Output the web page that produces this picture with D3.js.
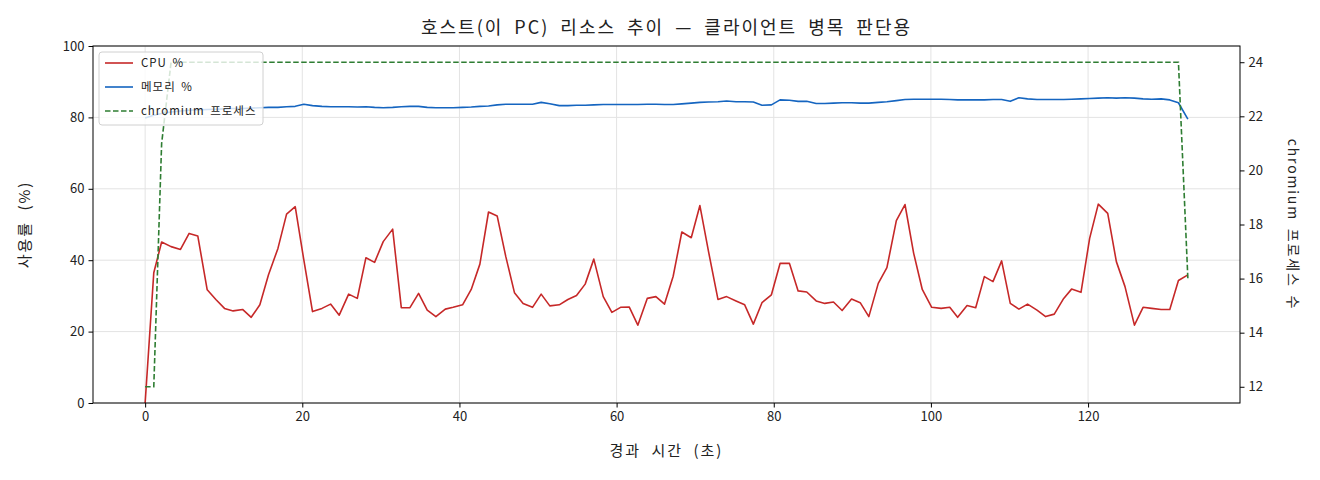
<!DOCTYPE html>
<html>
<head>
<meta charset="utf-8">
<script src="https://cdn.jsdelivr.net/npm/d3@7/dist/d3.min.js"></script>
<style>
  body { margin: 0; background: #fff; }
  svg text { font-family: "Noto Sans CJK KR", "DejaVu Sans", sans-serif; fill: #222; }
  .lbl { letter-spacing: 2px; word-spacing: 5px; }
  .lbl-r { letter-spacing: 1.8px; word-spacing: 3px; }
  .leg { letter-spacing: 1px; word-spacing: 2px; }
</style>
</head>
<body>
<div id="chart"></div>
<script>
// elapsed seconds of every sample
var elapsed = [
  0, 1.1, 2.1, 3.3, 4.5, 5.6, 6.7, 7.9, 9.0, 10.1, 11.2, 12.4, 13.5, 14.6, 15.7, 16.9, 18.0, 19.1, 20.2, 21.3,
  22.5, 23.6, 24.7, 25.9, 27.0, 28.1, 29.2, 30.3, 31.5, 32.6, 33.7, 34.8, 35.9, 37.0, 38.2, 39.2, 40.4, 41.5, 42.6, 43.7,
  44.8, 45.9, 47.0, 48.1, 49.3, 50.4, 51.5, 52.7, 53.8, 54.9, 56.0, 57.1, 58.3, 59.4, 60.5, 61.6, 62.7, 63.9, 65.0, 66.1,
  67.2, 68.3, 69.5, 70.6, 71.7, 72.9, 74.0, 75.2, 76.3, 77.4, 78.5, 79.7, 80.8, 82.0, 83.1, 84.2, 85.4, 86.5, 87.6, 88.7,
  89.9, 91.0, 92.1, 93.3, 94.4, 95.6, 96.7, 97.8, 98.9, 100.1, 101.3, 102.4, 103.4, 104.6, 105.7, 106.8, 107.9, 109.0, 110.1, 111.2,
  112.3, 113.5, 114.6, 115.7, 116.9, 117.9, 119.1, 120.2, 121.3, 122.5, 123.6, 124.7, 125.9, 127.0, 128.1, 129.3, 130.4, 131.5, 132.7
];
var cpuPct = [
  0, 36.5, 45.1, 43.8, 43.0, 47.5, 46.8, 31.7, 29.0, 26.5, 25.8, 26.2, 24.0, 27.5, 35.9, 43.3, 52.9, 55.0, 40.0, 25.6,
  26.5, 27.7, 24.6, 30.5, 29.3, 40.7, 39.4, 45.2, 48.7, 26.7, 26.7, 30.7, 26.0, 24.2, 26.3, 26.8, 27.5, 31.8, 38.9, 53.5,
  52.4, 41.0, 30.9, 27.9, 26.8, 30.5, 27.2, 27.5, 29.0, 30.1, 33.3, 40.3, 29.8, 25.4, 26.8, 26.9, 21.8, 29.3, 29.8, 27.7,
  35.5, 47.9, 46.3, 55.3, 42.4, 29.0, 29.8, 28.6, 27.5, 22.1, 28.1, 30.3, 39.1, 39.1, 31.4, 31.1, 28.6, 27.9, 28.3, 25.9,
  29.1, 28.1, 24.2, 33.5, 37.9, 51.1, 55.6, 42.0, 31.8, 26.8, 26.5, 26.8, 24.0, 27.3, 26.7, 35.4, 34.0, 39.8, 27.9, 26.3,
  27.7, 26.0, 24.2, 24.9, 29.3, 31.9, 31.0, 46.1, 55.7, 53.1, 39.6, 32.6, 21.8, 26.8, 26.5, 26.2, 26.2, 34.3, 35.9
];
var memPct = [
  79.8, 80.6, 81.1, 81.5, 81.8, 82.0, 82.1, 82.2, 82.3, 82.4, 82.5, 82.5, 82.6, 82.7, 82.8, 82.8, 83.0, 83.1, 83.7, 83.3,
  83.1, 83.0, 83.0, 83.0, 82.9, 83.0, 82.8, 82.7, 82.8, 83.0, 83.1, 83.1, 82.8, 82.7, 82.7, 82.7, 82.8, 82.9, 83.1, 83.2,
  83.5, 83.7, 83.7, 83.7, 83.7, 84.2, 83.8, 83.3, 83.3, 83.4, 83.4, 83.5, 83.6, 83.6, 83.6, 83.6, 83.6, 83.7, 83.7, 83.6,
  83.6, 83.8, 84.0, 84.2, 84.3, 84.4, 84.6, 84.4, 84.4, 84.3, 83.4, 83.5, 84.9, 84.8, 84.5, 84.5, 83.9, 83.9, 84.0, 84.1,
  84.1, 84.0, 84.0, 84.2, 84.4, 84.7, 85.0, 85.1, 85.1, 85.1, 85.1, 85.0, 84.9, 84.9, 84.9, 84.9, 85.0, 85.0, 84.5, 85.5,
  85.2, 85.0, 85.0, 85.0, 85.0, 85.1, 85.2, 85.3, 85.4, 85.5, 85.4, 85.5, 85.4, 85.2, 85.1, 85.2, 84.9, 84.1, 79.5
];
var chromiumProcs = [
  12, 12, 21, 24, 24, 24, 24, 24, 24, 24, 24, 24, 24, 24, 24, 24, 24, 24, 24, 24,
  24, 24, 24, 24, 24, 24, 24, 24, 24, 24, 24, 24, 24, 24, 24, 24, 24, 24, 24, 24,
  24, 24, 24, 24, 24, 24, 24, 24, 24, 24, 24, 24, 24, 24, 24, 24, 24, 24, 24, 24,
  24, 24, 24, 24, 24, 24, 24, 24, 24, 24, 24, 24, 24, 24, 24, 24, 24, 24, 24, 24,
  24, 24, 24, 24, 24, 24, 24, 24, 24, 24, 24, 24, 24, 24, 24, 24, 24, 24, 24, 24,
  24, 24, 24, 24, 24, 24, 24, 24, 24, 24, 24, 24, 24, 24, 24, 24, 24, 24, 16
];
var xTicks = [0, 20, 40, 60, 80, 100, 120];
var leftTicks = [0, 20, 40, 60, 80, 100];
var rightTicks = [12, 14, 16, 18, 20, 22, 24];
var seriesNames = ["CPU %", "메모리 %", "chromium 프로세스"];

var W = 1320, H = 480;
var margin = {top: 46, right: 80, bottom: 77, left: 93};
var iw = W - margin.left - margin.right, ih = H - margin.top - margin.bottom;

// matplotlib style 5% padding
function padded(ext) {
  var p = (ext[1] - ext[0]) * 0.05;
  return [ext[0] - p, ext[1] + p];
}

var x = d3.scaleLinear().domain(padded(d3.extent(elapsed))).range([0, iw]);
var yL = d3.scaleLinear().domain([0, 100]).range([ih, 0]);
var yR = d3.scaleLinear().domain(padded(d3.extent(chromiumProcs))).range([ih, 0]);

var svg = d3.select("#chart").append("svg").attr("width", W).attr("height", H);
var g = svg.append("g").attr("transform", "translate(" + margin.left + "," + margin.top + ")");

// grid
g.append("g").selectAll("line").data(xTicks).enter().append("line")
  .attr("x1", function(d) { return x(d); }).attr("x2", function(d) { return x(d); })
  .attr("y1", 0).attr("y2", ih).attr("stroke", "#e3e3e3").attr("stroke-width", 1);
g.append("g").selectAll("line").data(leftTicks).enter().append("line")
  .attr("x1", 0).attr("x2", iw)
  .attr("y1", function(d) { return yL(d); }).attr("y2", function(d) { return yL(d); })
  .attr("stroke", "#e3e3e3").attr("stroke-width", 1);

var idx = d3.range(elapsed.length);
var cpuLine = d3.line().x(function(i) { return x(elapsed[i]); }).y(function(i) { return yL(cpuPct[i]); });
var memLine = d3.line().x(function(i) { return x(elapsed[i]); }).y(function(i) { return yL(memPct[i]); });
var chrLine = d3.line().x(function(i) { return x(elapsed[i]); }).y(function(i) { return yR(chromiumProcs[i]); });

g.append("path").datum(idx).attr("d", cpuLine).attr("fill", "none")
  .attr("stroke", "#c62828").attr("stroke-width", 1.6).attr("stroke-linejoin", "round");
g.append("path").datum(idx).attr("d", memLine).attr("fill", "none")
  .attr("stroke", "#1565c0").attr("stroke-width", 1.6).attr("stroke-linejoin", "round");
g.append("path").datum(idx).attr("d", chrLine).attr("fill", "none")
  .attr("stroke", "#2e7d32").attr("stroke-width", 1.6).attr("stroke-dasharray", "5.5,2.5");

// axes
var axB = g.append("g").attr("transform", "translate(0," + ih + ")")
  .call(d3.axisBottom(x).tickValues(xTicks).tickSize(4.5).tickPadding(4));
var axL = g.append("g").call(d3.axisLeft(yL).tickValues(leftTicks).tickSize(4.5).tickPadding(4));
var axR = g.append("g").attr("transform", "translate(" + iw + ",0)")
  .call(d3.axisRight(yR).tickValues(rightTicks).tickSize(4.5).tickPadding(4));
[axB, axL, axR].forEach(function(a) {
  a.select(".domain").remove();
  a.selectAll("line").attr("stroke", "#000").attr("stroke-width", 1);
  a.selectAll("text").style("font-size", "13px").attr("fill", "#222");
});

// frame
g.append("rect").attr("width", iw).attr("height", ih)
  .attr("fill", "none").attr("stroke", "#000").attr("stroke-width", 1);

// titles
svg.append("text").attr("class", "lbl").attr("x", margin.left + iw / 2).attr("y", 34)
  .attr("text-anchor", "middle").style("font-size", "18px")
  .text("호스트(이 PC) 리소스 추이 — 클라이언트 병목 판단용");
svg.append("text").attr("class", "lbl").attr("x", margin.left + iw / 2).attr("y", 456)
  .attr("text-anchor", "middle").style("font-size", "15px").text("경과 시간 (초)");
svg.append("text").attr("class", "lbl").attr("transform", "translate(30," + (margin.top + ih / 2) + ") rotate(-90)")
  .attr("text-anchor", "middle").style("font-size", "15px").text("사용률 (%)");
svg.append("text").attr("class", "lbl-r").attr("transform", "translate(1288," + (margin.top + ih / 2) + ") rotate(90)")
  .attr("text-anchor", "middle").style("font-size", "14px").text("chromium 프로세스 수");

// legend
var leg = g.append("g").attr("transform", "translate(6,6)");
leg.append("rect").attr("width", 164).attr("height", 73).attr("rx", 3)
  .attr("fill", "#fff").attr("fill-opacity", 0.8).attr("stroke", "#d0d0d0");
var legColors = ["#c62828", "#1565c0", "#2e7d32"];
seriesNames.forEach(function(name, i) {
  var yy = 11 + i * 24;
  leg.append("line").attr("x1", 6).attr("x2", 34).attr("y1", yy).attr("y2", yy)
    .attr("stroke", legColors[i]).attr("stroke-width", 1.6)
    .attr("stroke-dasharray", i == 2 ? "5.5,2.5" : null);
  leg.append("text").attr("class", "leg").attr("x", 42).attr("y", yy + 4)
    .style("font-size", "11.5px").text(name);
});
</script>
</body>
</html>
